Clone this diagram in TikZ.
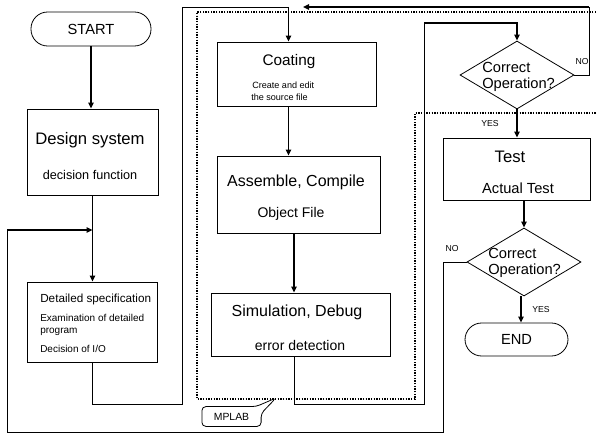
\documentclass[tikz,border=0pt]{standalone}
\usepackage{fontspec}
\setmainfont{Liberation Sans}
\usetikzlibrary{arrows.meta,shapes.geometric,fit,calc}
\begin{document}
\begin{tikzpicture}[x=0.75pt,y=-0.75pt,
  box/.style={draw, line width=0.6pt, inner sep=0pt, rectangle},
  term/.style={draw, line width=0.6pt, inner sep=0pt, rectangle, rounded corners=12.5pt},
  dec/.style={draw, shape=diamond, line width=0.6pt, inner sep=0pt, minimum width=85.5pt, minimum height=51pt},
  flow/.style={line width=1.3pt, -{Triangle[length=4.5pt,width=4pt]}},
  thinline/.style={line width=0.6pt},
  mpl/.style={line width=0.8pt, dash pattern=on 1pt off 1pt},
  lbl/.style={inner sep=0pt},
  fs/.style={font=\fontsize{#1}{#1}\selectfont}]
\useasboundingbox (0,0) rectangle (596,434);

% ---- column coordinates
\coordinate (colA) at (288.5,0);
\coordinate (colB) at (294,0);
\coordinate (colC) at (524,0);
\coordinate (colD) at (521,0);

% ---- MPLAB dotted region
\draw[mpl] (596,12) -- (197,12) -- (197,399) -- (415,399) -- (415,113) -- (596,113);

% ---- left column
\node[term, fit={(31,12) (151,46)}] (start) {};
\node[lbl, fs=11] (startT) at (start.center) {START};
\node[box, fit={(27,109) (158,195)}] (design) {};
\node[lbl, fs=12.5] (designT) at (90,140) {Design system};
\node[lbl, fs=9.5] (designS) at (90,175) {decision function};

\node[box, fit={(27,282) (157,362)}] (detail) {};
\node[lbl, fs=8.8, anchor=west] (detailT) at (40,299) {Detailed specification};
\node[lbl, fs=7.5, anchor=west] (detailS1) at (40,318) {Examination of detailed};
\node[lbl, fs=7.5, anchor=west] (detailS2) at (40,332) {program};
\node[lbl, fs=7.5, anchor=west] (detailS3) at (40,349) {Decision of I/O};

% ---- middle column
\node[box, fit={(217,42) (376,106)}] (coating) {};
\node[lbl, fs=11.5] (coatingT) at (289,62) {Coating};
\node[lbl, fs=6.8, anchor=west] (coatingS1) at (252,85) {Create and edit};
\node[lbl, fs=6.8, anchor=west] (coatingS2) at (251,97) {the source file};

\node[box, fit={(217,156) (380,233)}] (assemble) {};
\node[lbl, fs=12] (assembleT) at (296,182) {Assemble, Compile};
\node[lbl, fs=10.5] (assembleS) at (291,214) {Object File};

\node[box, fit={(211,293) (390,356)}] (sim) {};
\node[lbl, fs=12] (simT) at (297,312) {Simulation, Debug};
\node[lbl, fs=10.5] (simS) at (300,345) {error detection};

% ---- right column
\node[dec] (d1) at (517,75) {};
\node[lbl, fs=11, anchor=west, align=left] (d1T) at (482,77) {Correct\\[1pt]Operation?};

\node[box, fit={(443,138) (590,200)}] (test) {};
\node[lbl, fs=12.5] (testT) at (510,157) {Test};
\node[lbl, fs=11] (testS) at (518,188) {Actual Test};

\node[dec] (d2) at (524,262) {};
\node[lbl, fs=11, anchor=west, align=left] (d2T) at (488,263) {Correct\\[1pt]Operation?};

\node[term, fit={(465,323) (568,356)}] (end) {};
\node[lbl, fs=11] (endT) at (end.center) {END};

% ---- small labels
\node[lbl, fs=6.5] (no1) at (582,62) {NO};
\node[lbl, fs=6.5] (yes1) at (490,124) {YES};
\node[lbl, fs=6.5] (no2) at (452,249) {NO};
\node[lbl, fs=6.5] (yes2) at (541,310) {YES};

% ---- MPLAB callout
\coordinate (mptip) at (276,398);
\node[inner sep=0pt, minimum width=44pt, minimum height=14.5pt] (mplab) at (231.5,416.5) {};
\draw[thinline, rounded corners=3pt, fill=white]
  ($(mplab.north east)+(-5,0)$) -- (mplab.north west) -- (mplab.south west)
  -- (mplab.south east) -- ($(mplab.east)+(0,-3)$) -- (mptip) -- cycle;
\node[inner sep=0pt, fs=7.8] (mplabT) at (mplab.center) {MPLAB};

% ---- connectors
\draw[flow] (start.south) -- (start.south |- design.north);
\draw[flow] (design.south) -- (design.south |- detail.north);

% feedback from second decision (NO)
\coordinate (fbA) at (443,432);
\coordinate (fbB) at (7,230);
\draw[thinline] (d2.west) -| (fbA) -| (fbB);
\draw[flow] (fbB) -- (fbB -| design.south);

% detail spec -> coating
\coordinate (upA) at (182,404);
\coordinate (upB) at (182,7);
\draw[thinline] (detail.south) |- (upA) -- (upB) -- (upB -| colA);
\draw[flow] (upB -| colA) -- (coating.north -| colA);

\draw[flow] (coating.south -| colA) -- (assemble.north -| colA);
\draw[flow] (assemble.south -| colB) -- (sim.north -| colB);

% simulation -> first decision
\coordinate (rtA) at (424,404);
\coordinate (rtB) at (424,23);
\draw[thinline] (sim.south -| colB) |- (rtA) -- (rtB);
\draw[flow] (rtB) -| (d1.north);

% first decision NO
\coordinate (noA) at (589,7);
\coordinate (noB) at (303,7);
\draw[thinline] (d1.east) -| (noA);
\draw[flow] (noA) -- (noB);

\draw[flow] (d1.south) -- (d1.south |- test.north);
\draw[flow] (test.south -| colC) -- (d2.north);
\draw[flow] (d2.south -| colD) -- (end.north -| colD);
\end{tikzpicture}
\end{document}
